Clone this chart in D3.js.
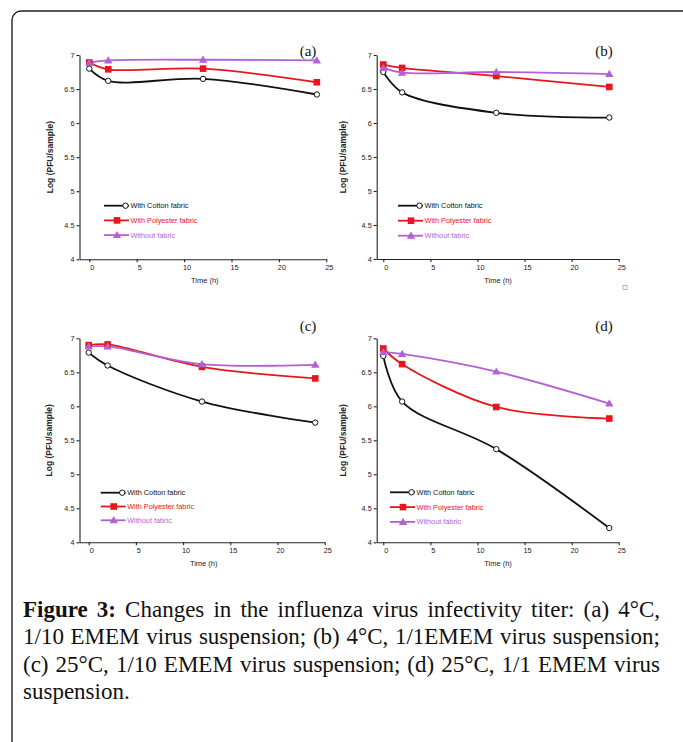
<!doctype html>
<meta charset="utf-8" />
<style>
    body { margin: 0; background: #fff; position: relative; width: 683px; height: 742px; overflow: hidden; }
    svg { display: block; position: absolute; left: 0; top: 0; }
    .cap { position: absolute; left: 23px; width: 637px; font-family: "Liberation Serif", "Times New Roman", serif; font-size: 23px; line-height: 27px; color: #111; white-space: nowrap; }
    .just { text-align: justify; text-align-last: justify; white-space: normal; }
</style>
<svg></svg>

<script src="https://cdnjs.cloudflare.com/ajax/libs/d3/7.8.5/d3.min.js"></script>

<script>
    // sampling times (h)
    var hours = [0, 2, 12, 24];

    // log(PFU/sample)
    var cottonA = [6.80, 6.62, 6.65, 6.42];
    var polyA = [6.89, 6.79, 6.80, 6.60];
    var noneA = [6.89, 6.92, 6.93, 6.92];

    var cottonB = [6.75, 6.45, 6.15, 6.08];
    var polyB = [6.86, 6.81, 6.69, 6.53];
    var noneB = [6.81, 6.74, 6.75, 6.72];

    var cottonC = [6.79, 6.60, 6.07, 5.76];
    var polyC = [6.90, 6.91, 6.58, 6.41];
    var noneC = [6.88, 6.88, 6.62, 6.61];

    var cottonD = [6.74, 6.07, 5.37, 4.21];
    var polyD = [6.85, 6.62, 5.99, 5.82];
    var noneD = [6.80, 6.77, 6.51, 6.04];

    var seriesNames = ['With Cotton fabric', 'With Polyester fabric', 'Without fabric'];
    var panelLabels = ['(a)', '(b)', '(c)', '(d)'];
    var yTicks = [4, 4.5, 5, 5.5, 6, 6.5, 7];
    var xTicks = [0, 5, 10, 15, 20, 25];
    var yTitle = 'Log (PFU/sample)';
    var xTitle = 'Time (h)';

    var captionLines = [
        ['Figure 3:', ' Changes in the influenza virus infectivity titer: (a) 4°C,'],
        ['', '1/10 EMEM virus suspension; (b) 4°C, 1/1EMEM virus suspension;'],
        ['', '(c) 25°C, 1/10 EMEM virus suspension; (d) 25°C, 1/1 EMEM virus'],
        ['', 'suspension.']
    ];

    var colors = ['#111', '#e8161c', '#b45fd6'];

    var svg = d3.select('svg')
        .attr('width', 683)
        .attr('height', 742)

    // outer frame
    svg.append('rect')
        .attr('x', 12).attr('y', 11)
        .attr('width', 682).attr('height', 780)
        .attr('rx', 9)
        .style('fill', 'none')
        .style('stroke', '#222')
        .style('stroke-width', 1.4)

    var panels = [
        { data: [cottonA, polyA, noneA], ax: 79.5, x0: 89.3, x25: 326.3, top: 55, bot: 259.3,
          lab: [308, 56], ylab: 50, leg: [104, 205.7, 14.7] },
        { data: [cottonB, polyB, noneB], ax: 376.7, x0: 383.3, x25: 618.7, top: 55, bot: 259,
          lab: [604, 56], ylab: 343, leg: [398, 205.7, 15] },
        { data: [cottonC, polyC, noneC], ax: 79.5, x0: 88.7, x25: 324.7, top: 338.3, bot: 542.3,
          lab: [308, 331], ylab: 49.5, leg: [100.7, 492.7, 13.8] },
        { data: [cottonD, polyD, noneD], ax: 376.7, x0: 383.3, x25: 618.7, top: 338.3, bot: 542.3,
          lab: [604, 331], ylab: 343, leg: [390, 492.3, 14.8] }
    ];

    function drawMarker(g, k, x, y) {
        if (k === 0) {
            g.append('circle').attr('cx', x).attr('cy', y).attr('r', 2.7)
                .style('fill', '#fff').style('stroke', colors[0]).style('stroke-width', 1)
        } else if (k === 1) {
            g.append('rect').attr('x', x - 3.3).attr('y', y - 3.3).attr('width', 6.6).attr('height', 6.6)
                .style('fill', colors[1])
        } else {
            g.append('path')
                .attr('d', d3.symbol().type(d3.symbolTriangle).size(30)())
                .attr('transform', 'translate(' + x + ',' + (y + 0.6) + ')')
                .style('fill', colors[2])
        }
    }

    panels.forEach(function (p, i) {
        var g = svg.append('g')

        var xs = d3.scaleLinear().domain([0, 25]).range([p.x0, p.x25]);
        var x = d3.scaleLinear().domain([xs.invert(p.ax), 25]).range([p.ax, p.x25]);
        var y = d3.scaleLinear().domain([4, 7]).range([p.bot, p.top]);

        var xAxis = g.append('g')
            .attr('transform', 'translate(0,' + p.bot + ')')
            .call(d3.axisBottom(x).tickValues(xTicks).tickSize(3).tickSizeOuter(0).tickPadding(3))
        xAxis.selectAll('text').attr('dx', 2.5)

        var yAxis = g.append('g')
            .attr('transform', 'translate(' + p.ax + ',0)')
            .call(d3.axisLeft(y).tickValues(yTicks).tickSize(3).tickSizeOuter(0).tickPadding(2)
                .tickFormat(d3.format('')))

        g.selectAll('.domain, .tick line').style('stroke', '#222').style('stroke-width', 1.1)
        g.selectAll('.tick text')
            .style('font-family', '"Liberation Sans", Arial, sans-serif')
            .style('font-size', '7.3px')
            .style('fill', '#222')

        g.append('text')
            .attr('transform', 'translate(' + p.ylab + ',' + (p.top + p.bot) / 2 + ') rotate(-90)')
            .attr('text-anchor', 'middle')
            .attr('dy', '0.35em')
            .style('font-family', '"Liberation Sans", Arial, sans-serif')
            .style('font-size', '8.5px')
            .style('font-weight', 'bold')
            .style('fill', '#222')
            .text(yTitle)

        g.append('text')
            .attr('x', (x(0) + x(25)) / 2 - 3)
            .attr('y', p.bot + 21)
            .attr('dy', '0.35em')
            .attr('text-anchor', 'middle')
            .style('font-family', '"Liberation Sans", Arial, sans-serif')
            .style('font-size', '7.5px')
            .style('fill', '#222')
            .text(xTitle)

        g.append('text')
            .attr('x', p.lab[0])
            .attr('y', p.lab[1])
            .attr('text-anchor', 'middle')
            .style('font-family', '"Liberation Serif", "Times New Roman", serif')
            .style('font-size', '15px')
            .style('fill', '#111')
            .text(panelLabels[i])

        var line = d3.line()
            .x(function (d, j) { return x(hours[j]); })
            .y(function (d) { return y(d); })
            .curve(d3.curveCatmullRom.alpha(0.5));

        p.data.forEach(function (vals, k) {
            g.append('path')
                .attr('d', line(vals))
                .style('fill', 'none')
                .style('stroke', colors[k])
                .style('stroke-width', 1.8)
        });

        p.data.forEach(function (vals, k) {
            vals.forEach(function (v, j) {
                drawMarker(g, k, x(hours[j]), y(v));
            });
        });

        // legend
        seriesNames.forEach(function (name, k) {
            var ly = p.leg[1] + k * p.leg[2];
            var lx = p.leg[0];
            g.append('line')
                .attr('x1', lx).attr('x2', lx + 25)
                .attr('y1', ly).attr('y2', ly)
                .style('stroke', colors[k])
                .style('stroke-width', 1.8)
            drawMarker(g, k, k === 0 ? lx + 21.5 : lx + 13, ly);
            g.append('text')
                .attr('x', lx + 26.5)
                .attr('y', ly)
                .attr('dy', '0.35em')
                .style('font-family', '"Liberation Sans", Arial, sans-serif')
                .style('font-size', '7.3px')
                .style('fill', colors[k])
                .text(name)
        });
    });

    // small stray box under panel (b)
    svg.append('rect')
        .attr('x', 623).attr('y', 285.5)
        .attr('width', 4).attr('height', 4)
        .style('fill', 'none')
        .style('stroke', '#999')
        .style('stroke-width', 0.7)

    // caption
    var body = d3.select('body');
    captionLines.forEach(function (ln, i) {
        var d = body.append('div')
            .attr('class', i < 3 ? 'cap just' : 'cap')
            .style('top', (595.5 + i * 27.6) + 'px')
        if (ln[0]) d.append('b').text(ln[0]);
        d.append('span').text(ln[1]);
    });

</script>
